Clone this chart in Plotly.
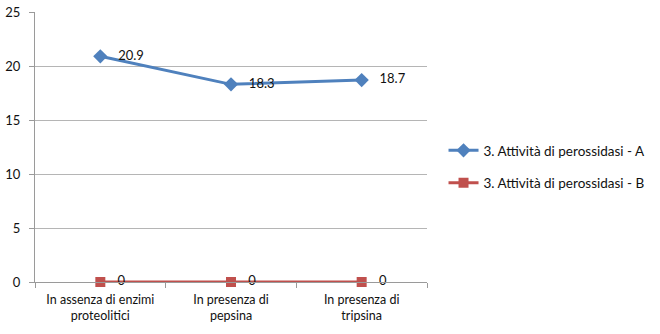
import plotly.graph_objects as go

categories = ["In assenza di enzimi<br>proteolitici", "In presenza di<br>pepsina", "In presenza di<br>tripsina"]
series_a = [20.9, 18.3, 18.7]
series_b = [0, 0, 0]
name_a = "3. Attività di perossidasi - A"
name_b = "3. Attività di perossidasi - B"
y_ticks = [0, 5, 10, 15, 20, 25]

font_family = "Lato, 'Open Sans', sans-serif"
blue = "#4f81bd"
red = "#c0504d"

fig = go.Figure()
fig.add_trace(go.Scatter(
    x=categories, y=series_a, name=name_a, legendgroup="a",
    mode="lines+markers+text",
    line=dict(color=blue, width=3),
    marker=dict(symbol="diamond", size=11, color=blue),
    text=["   " + str(v) for v in series_a],
    textposition="middle right",
    textfont=dict(size=13, color="#111111"),
    cliponaxis=False,
))
fig.add_trace(go.Scatter(
    x=categories, y=series_b, name=name_b, legendgroup="b",
    mode="lines+markers+text",
    line=dict(color=red, width=3),
    marker=dict(symbol="square", size=10, color=red),
    text=["   " + str(v) for v in series_b], textposition="middle right",
    textfont=dict(size=13, color="#111111"),
    cliponaxis=False,
))

fig.update_layout(
    width=660, height=334,
    margin=dict(l=35, r=233, t=12, b=52, autoexpand=False),
    paper_bgcolor="white", plot_bgcolor="white",
    font=dict(family=font_family, size=12, color="#111111"),
    showlegend=True,
    legend=dict(x=0.672, y=0.5, xref="container", yref="container",
                xanchor="left", yanchor="middle",
                font=dict(size=13.5), tracegroupgap=12, itemwidth=30),
)
fig.update_xaxes(
    type="category", tickson="boundaries", ticks="outside", ticklen=5,
    tickcolor="#9a9a9a", showline=True, linecolor="#9a9a9a", linewidth=1,
    showgrid=False, tickfont=dict(size=12.5), range=[-0.5, 2.5],
    automargin=False, ticklabelstandoff=6,
)
fig.update_yaxes(
    range=[0, 25], tickvals=y_ticks, ticks="outside", ticklen=5,
    tickcolor="#9a9a9a", showline=True, linecolor="#9a9a9a", linewidth=1,
    showgrid=True, gridcolor="#b5b5b5", gridwidth=1, zeroline=False,
    tickfont=dict(size=13), automargin=False, ticklabelstandoff=6,
)

fig.write_html("out.html")
